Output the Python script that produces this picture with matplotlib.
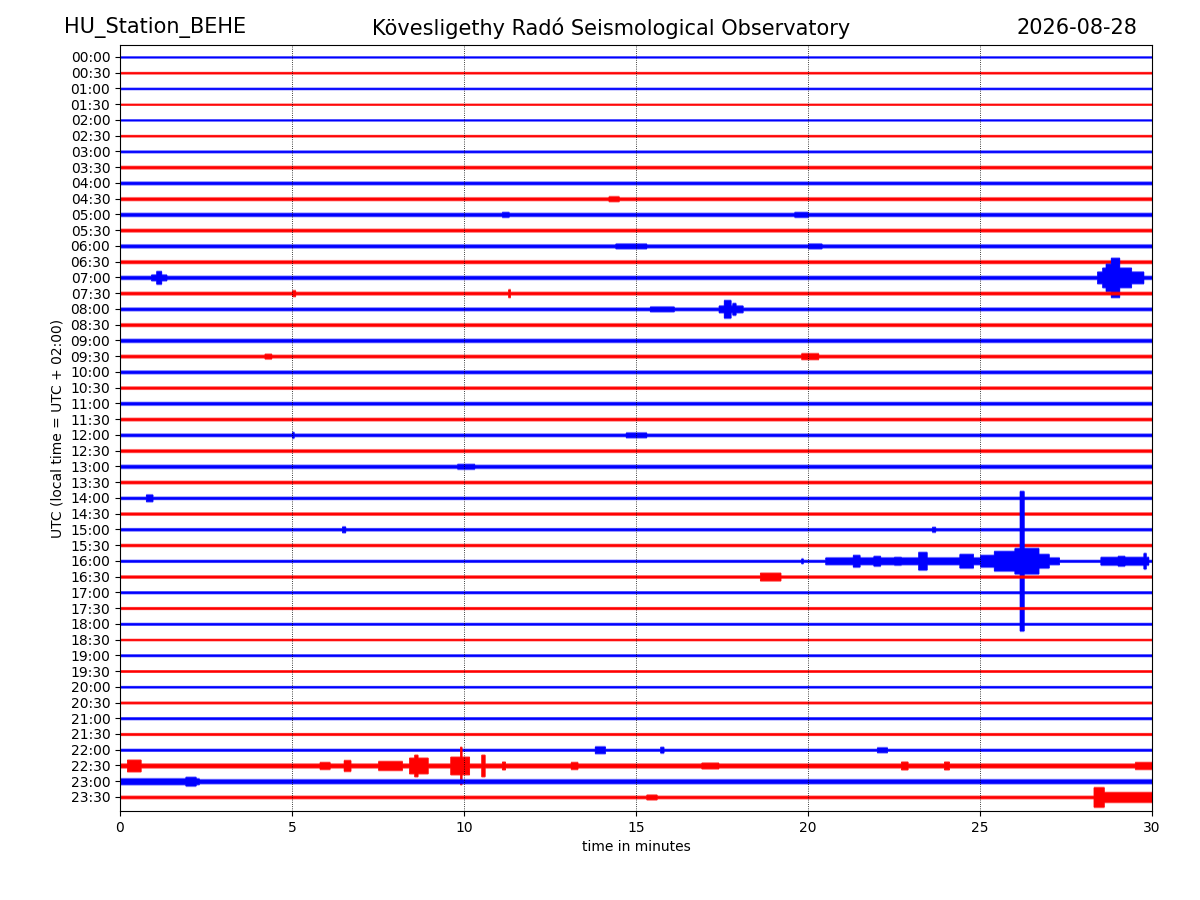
import numpy as np
import matplotlib
matplotlib.use('Agg')
import matplotlib.pyplot as plt

# Helicorder BEHE, 30 minutes per line

rows = ['%02d:%02d' % (h, m) for h in range(24) for m in (0, 30)]
colors = ['blue', 'red'] * 24

# background noise half-width of each line (row spacing = 16)
base_amp = [1.2, 1.5, 1.5, 1.2, 1.2, 1.5, 1.7, 2.2, 2.3, 2.3,
            2.5, 2.3, 2.5, 2.3, 2.5, 2.3, 2.3, 2.3, 2.5, 2.3,
            2.3, 2.0, 2.3, 2.2, 2.2, 2.2, 2.5, 2.2, 2.0, 2.0,
            2.0, 2.0, 1.8, 2.0, 1.8, 1.7, 1.7, 1.5, 1.7, 1.5,
            1.5, 1.7, 1.8, 1.7, 1.8, 3.0, 3.0, 2.2]

# events: (row, start min, end min, half-width)
events = [
    (9, 14.2, 14.5, 3.5),
    (10, 19.6, 20.0, 3.5), (10, 11.1, 11.3, 3.5),
    (12, 14.4, 15.3, 3.5), (12, 20.0, 20.4, 3.5),
    (14, 1.05, 1.2, 7.5), (14, 0.9, 1.35, 4.0),
    (14, 28.4, 29.75, 7.0), (14, 28.55, 29.4, 11.0),
    (14, 28.65, 28.9, 15.0), (14, 28.8, 29.05, 21.0),
    (15, 11.28, 11.34, 5.0), (15, 5.0, 5.1, 4.0),
    (16, 15.4, 16.1, 3.5), (16, 17.4, 18.1, 4.5),
    (16, 17.55, 17.75, 10.0), (16, 17.8, 17.9, 7.0),
    (19, 19.8, 20.3, 4.0), (19, 4.2, 4.4, 3.5),
    (24, 14.7, 15.3, 3.5), (24, 5.0, 5.05, 4.0),
    (26, 9.8, 10.3, 3.5),
    (28, 0.75, 0.95, 4.5),
    (30, 6.45, 6.55, 4.0), (30, 23.6, 23.7, 3.5),
    (32, 19.8, 19.85, 3.5), (32, 20.5, 27.3, 4.5),
    (32, 21.3, 21.5, 7.0), (32, 21.9, 22.1, 6.0), (32, 22.5, 22.7, 5.0),
    (32, 23.2, 23.45, 10.0), (32, 24.4, 24.8, 8.0), (32, 25.0, 25.4, 7.0),
    (32, 25.4, 26.1, 11.0), (32, 26.0, 26.7, 14.0), (32, 26.15, 26.27, 72.0),
    (32, 26.7, 27.0, 8.0), (32, 28.5, 29.9, 5.0), (32, 29.0, 29.2, 6.0),
    (32, 29.75, 29.82, 9.0),
    (33, 18.6, 19.2, 5.0),
    (44, 13.8, 14.1, 4.5), (44, 15.7, 15.8, 4.0), (44, 22.0, 22.3, 3.5),
    (45, 0.2, 0.6, 7.0), (45, 5.8, 6.1, 4.5), (45, 6.5, 6.7, 6.5),
    (45, 7.5, 8.2, 5.5), (45, 8.4, 8.95, 9.0), (45, 8.55, 8.65, 12.0),
    (45, 9.6, 10.15, 10.0), (45, 9.88, 9.93, 20.0), (45, 10.5, 10.6, 12.0),
    (45, 11.1, 11.2, 5.0), (45, 13.1, 13.3, 4.5), (45, 16.9, 17.4, 4.0),
    (45, 22.7, 22.9, 5.0), (45, 23.95, 24.1, 5.0), (45, 29.5, 30.0, 4.5),
    (46, 0.0, 2.3, 4.0), (46, 1.9, 2.2, 5.5),
    (47, 28.3, 30.0, 6.0), (47, 28.3, 28.6, 11.0), (47, 15.3, 15.6, 3.5),
]

row_gap = 16.0
t = np.arange(0, 30.0001, 0.005)

fig = plt.figure(figsize=(12, 9), dpi=100)
ax = fig.add_axes([0.1, 0.0989, 0.86, 0.8511])

for i, name in enumerate(rows):
    env = np.full(t.size, base_amp[i])
    for r, t0, t1, a in events:
        if r == i:
            sel = (t >= t0) & (t <= t1)
            env[sel] = np.maximum(env[sel], a)
    # faint outer fringe + solid core, like a dense wiggle trace
    ax.fill_between(t, i - env / row_gap, i + env / row_gap,
                    color=colors[i], lw=0, alpha=0.45, step='mid')
    core = np.maximum(env - 1.2, 0.5 * env)
    ax.fill_between(t, i - core / row_gap, i + core / row_gap,
                    color=colors[i], lw=0.4, step='mid')

ax.set_xlim(0, 30)
ax.set_ylim(47.89, -0.76)
ax.set_xticks(np.arange(0, 31, 5))
ax.set_yticks(range(len(rows)))
ax.set_yticklabels(rows)
ax.xaxis.grid(True, color='k', ls=':', lw=0.6)
ax.set_xlabel('time in minutes')
ax.set_ylabel('UTC (local time = UTC + 02:00)')

fig.text(0.053, 0.969, 'HU_Station_BEHE', fontsize=15, ha='left', va='center')
fig.text(0.509, 0.969, 'Kövesligethy Radó Seismological Observatory',
         fontsize=15, ha='center', va='center')
fig.text(0.9475, 0.969, '2026-08-28', fontsize=15, ha='right', va='center')

fig.savefig('out.png', dpi=100)
